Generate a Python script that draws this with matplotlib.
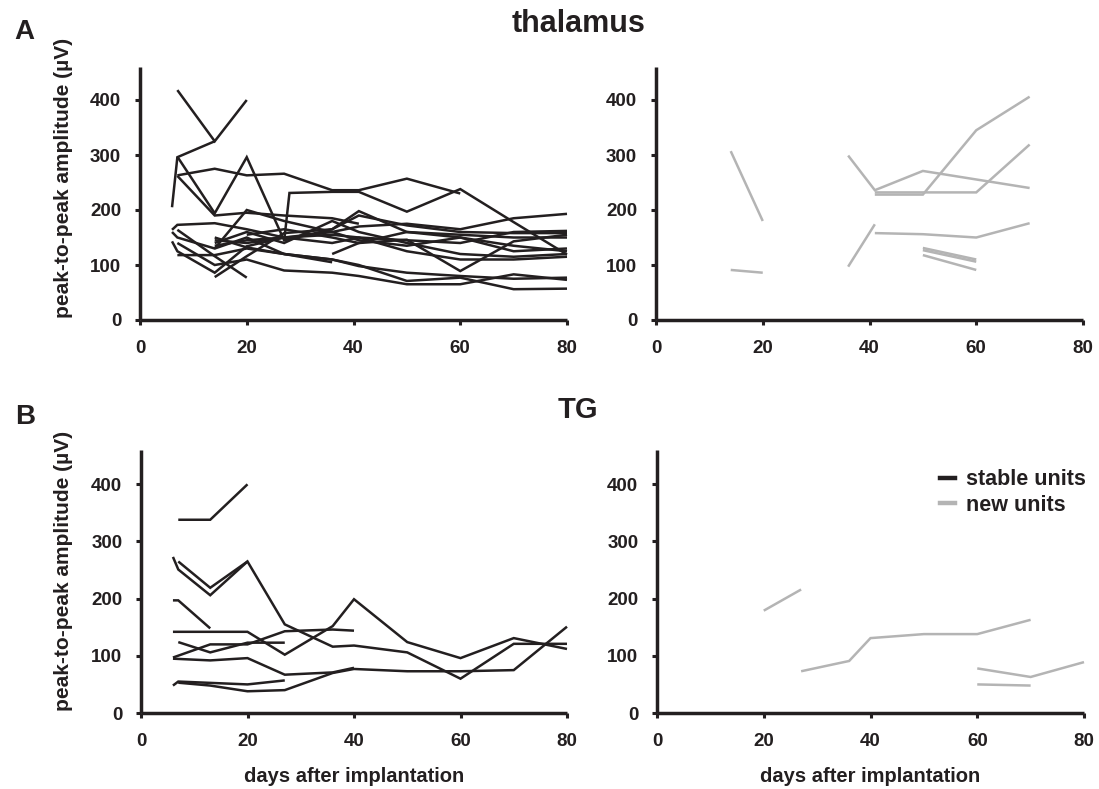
import matplotlib
matplotlib.use("Agg")
import matplotlib.pyplot as plt
from matplotlib.lines import Line2D

plt.rcParams['font.family'] = ['Liberation Sans', 'DejaVu Sans']
plt.rcParams['font.weight'] = 'bold'

# ---------------- data ----------------
# thalamus, stable units (days, amplitude)
thal_stable_days = [
    [7, 14, 20],
    [6, 7, 14],
    [7, 14, 20, 27, 36, 41, 50, 60, 70, 80],
    [7, 14, 20, 27, 36, 41, 50, 60],
    [27, 28, 36, 41, 50, 60, 70, 80],
    [7, 14, 20, 27, 36, 41],
    [6, 7, 14, 20, 27, 36, 41, 50, 60, 70, 80],
    [6, 7, 14, 20, 27, 36, 41, 50, 60, 70, 80],
    [7, 14, 20],
    [14, 20, 27, 36, 41, 50, 60, 70, 80],
    [7, 14, 20, 27, 36, 41, 50, 60, 70, 80],
    [6, 7, 14, 20, 27, 36, 41, 50, 60, 70, 80],
    [14, 20, 27, 36, 41, 50, 60, 70, 80],
    [14, 20, 27, 36, 41, 50, 60, 70, 80],
    [7, 14, 20, 27, 36, 41, 50, 60, 70, 80],
    [14, 20, 27, 36, 41, 50, 60, 70, 80],
    [20, 27, 36, 41, 50, 60, 70, 80],
    [36, 41, 50, 60, 70, 80],
    [14, 20, 27],
    [14, 20, 27, 36],
]
thal_stable_vals = [
    [418, 325, 400],
    [205, 296, 325],
    [297, 194, 296, 145, 165, 198, 160, 150, 135, 125],
    [263, 275, 263, 266, 236, 236, 257, 230],
    [143, 231, 233, 233, 197, 238, 178, 119],
    [262, 190, 195, 190, 185, 175],
    [164, 173, 176, 165, 150, 160, 170, 175, 165, 185, 193],
    [143, 125, 86, 134, 150, 140, 150, 145, 140, 160, 162],
    [164, 116, 77],
    [78, 116, 158, 165, 190, 172, 160, 158, 158],
    [118, 118, 130, 120, 110, 98, 86, 80, 75, 77],
    [160, 150, 130, 150, 120, 110, 100, 71, 77, 56, 57],
    [140, 160, 140, 180, 160, 140, 120, 115, 120],
    [135, 145, 150, 155, 150, 125, 110, 110, 115],
    [140, 100, 110, 90, 86, 80, 65, 65, 83, 73],
    [130, 200, 180, 160, 145, 135, 150, 125, 130],
    [155, 165, 150, 140, 160, 155, 150, 150],
    [120, 140, 146, 89, 143, 155],
    [145, 140, 150],
    [150, 132, 120, 105],
]

# thalamus, new units
thal_new_days = [
    [14, 20],
    [14, 20],
    [36, 41, 50, 70],
    [41, 50, 60, 70],
    [41, 50, 60, 70],
    [36, 41],
    [41, 50, 60, 70],
    [50, 60],
    [50, 60],
    [50, 60],
]
thal_new_vals = [
    [307, 180],
    [91, 86],
    [299, 236, 271, 240],
    [232, 232, 232, 319],
    [228, 228, 345, 406],
    [97, 174],
    [158, 156, 150, 176],
    [131, 110],
    [127, 106],
    [118, 91],
]

# TG, stable units
tg_stable_days = [
    [7, 13, 20],
    [6, 7, 13, 20, 27, 36, 40, 50, 60, 70, 80],
    [7, 13, 20],
    [6, 7, 13],
    [6, 13, 20, 27, 36, 40, 50, 60, 70, 80],
    [6, 13, 20, 27, 36, 40],
    [7, 13, 20, 27],
    [6, 13, 20, 27, 36, 40],
    [7, 13, 20, 27, 36, 40, 50, 60, 70, 80],
    [6, 7, 20, 27],
]
tg_stable_vals = [
    [338, 338, 400],
    [273, 251, 206, 265, 155, 116, 118, 106, 60, 121, 121],
    [265, 219, 265],
    [197, 197, 148],
    [142, 142, 142, 102, 152, 199, 124, 96, 131, 112],
    [97, 120, 120, 143, 146, 144],
    [124, 106, 123, 123],
    [95, 92, 96, 67, 71, 79],
    [53, 48, 38, 40, 70, 77, 73, 73, 75, 151],
    [48, 55, 50, 57],
]

# TG, new units
tg_new_days = [
    [20, 27],
    [27, 36, 40, 50, 60, 70],
    [60, 70, 80],
    [60, 70],
]
tg_new_vals = [
    [179, 216],
    [73, 91, 131, 138, 138, 163],
    [78, 63, 89],
    [50, 48],
]

x_ticks = [0, 20, 40, 60, 80]
y_ticks = [0, 100, 200, 300, 400]

BLACK = '#231f20'
GRAY = '#b4b4b4'

# ---------------- figure ----------------
W, H = 1099, 789
fig = plt.figure(figsize=(W / 100, H / 100), dpi=100)


def px_axes(x0, x1, ytop, ybot):
    return fig.add_axes([x0 / W, 1 - ybot / H, (x1 - x0) / W, (ybot - ytop) / H])


ax_tl = px_axes(140, 567, 67, 320)
ax_tr = px_axes(656, 1083, 67, 320)
ax_bl = px_axes(141, 567, 450, 713)
ax_br = px_axes(657, 1084, 450, 713)


def style(ax, xlabel=False):
    ax.set_xlim(0, 80)
    ax.set_ylim(0, 460)
    ax.set_xticks(x_ticks)
    ax.set_yticks(y_ticks)
    ax.set_xticklabels([str(t) for t in x_ticks])
    ax.set_yticklabels([str(t) for t in y_ticks])
    for s in ['top', 'right']:
        ax.spines[s].set_visible(False)
    for s in ['left', 'bottom']:
        ax.spines[s].set_linewidth(2.5)
        ax.spines[s].set_color(BLACK)
        ax.spines[s].set_capstyle('butt')
    ax.tick_params(axis='both', direction='out', length=3.5, width=2.2,
                   color=BLACK, labelsize=13.5, labelcolor=BLACK)
    ax.tick_params(axis='x', pad=11)
    ax.tick_params(axis='y', pad=10)
    for lab in ax.get_xticklabels() + ax.get_yticklabels():
        lab.set_fontweight('bold')
    if xlabel:
        ax.set_xlabel('days after implantation', fontsize=14.5, fontweight='bold',
                      color=BLACK, labelpad=12)


def draw(ax, days, vals, color):
    for d, v in zip(days, vals):
        ax.plot(d, v, color=color, lw=1.8, solid_joinstyle='miter',
                solid_capstyle='butt', clip_on=False)


draw(ax_tl, thal_stable_days, thal_stable_vals, BLACK)
draw(ax_tr, thal_new_days, thal_new_vals, GRAY)
draw(ax_bl, tg_stable_days, tg_stable_vals, BLACK)
draw(ax_br, tg_new_days, tg_new_vals, GRAY)

style(ax_tl)
style(ax_tr)
style(ax_bl, xlabel=True)
style(ax_br, xlabel=True)

ax_tl.set_ylabel('peak-to-peak amplitude (µV)', fontsize=15, fontweight='bold',
                 color=BLACK)
ax_tl.yaxis.set_label_coords(-0.158, 0.56)
ax_bl.set_ylabel('peak-to-peak amplitude (µV)', fontsize=15, fontweight='bold',
                 color=BLACK)
ax_bl.yaxis.set_label_coords(-0.16, 0.54)

fig.text(579 / W, 1 - 24 / H, 'thalamus', ha='center', va='center',
         fontsize=22, fontweight='bold', color=BLACK)
fig.text(578 / W, 1 - 410 / H, 'TG', ha='center', va='center',
         fontsize=21, fontweight='bold', color=BLACK)
fig.text(24 / W, 1 - 32 / H, 'A', ha='center', va='center',
         fontsize=20, fontweight='bold', color=BLACK)
fig.text(25 / W, 1 - 417 / H, 'B', ha='center', va='center',
         fontsize=20, fontweight='bold', color=BLACK)

handles = [Line2D([0], [0], color=BLACK, lw=3.2),
           Line2D([0], [0], color=GRAY, lw=3.2)]
leg = fig.legend(handles, ['stable units', 'new units'], loc='upper left',
                 bbox_to_anchor=(921 / W, 1 - 450 / H), bbox_transform=fig.transFigure,
                 frameon=False, handlelength=0.7, handletextpad=0.5,
                 labelspacing=0.2, prop={'weight': 'bold', 'size': 15.5})
for t in leg.get_texts():
    t.set_color(BLACK)

fig.savefig('out.png', dpi=100)
